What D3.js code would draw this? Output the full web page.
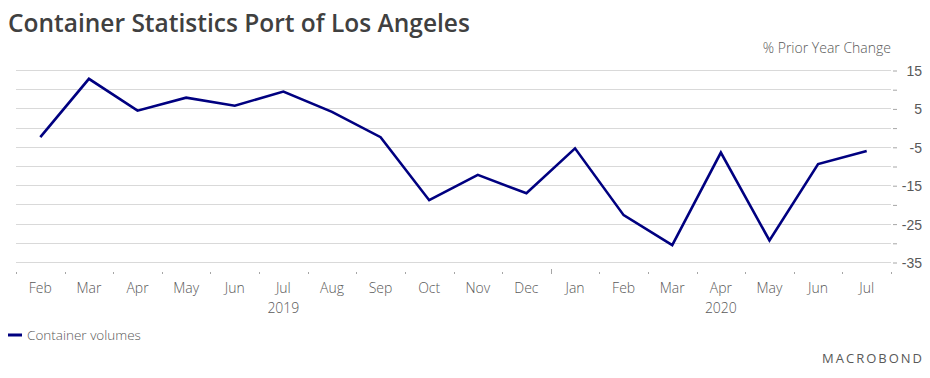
<!DOCTYPE html>
<html lang="en">
<head>
<meta charset="utf-8">
<style>
body {
  margin: 0;
  background: #fff;
  font-family: "Open Sans", "Noto Sans", sans-serif;
}
.grid line { stroke: #d9d9d9; stroke-width: 1; }
.lbl { fill: #595959; font-size: 14px; font-weight: 300; }
</style>
</head>
<body>
<script src="https://cdn.jsdelivr.net/npm/d3@7"></script>
<script>

var width = 930,
    height = 378;

// monthly series, Feb 2019 .. Jul 2020
var months = ["Feb", "Mar", "Apr", "May", "Jun", "Jul", "Aug", "Sep", "Oct", "Nov", "Dec",
              "Jan", "Feb", "Mar", "Apr", "May", "Jun", "Jul"];
var years = ["2019", "2019", "2019", "2019", "2019", "2019", "2019", "2019", "2019", "2019", "2019",
             "2020", "2020", "2020", "2020", "2020", "2020", "2020"];
var volumes = [-2.5, 12.7, 4.4, 7.8, 5.7, 9.4, 4.1, -2.5, -18.9, -12.3, -17.1,
               -5.4, -22.8, -30.6, -6.5, -29.4, -9.5, -6.1];
var yTicks = [15, 10, 5, 0, -5, -10, -15, -20, -25, -30, -35];
var yLabels = [15, 5, -5, -15, -25, -35];

var svg = d3.select("body").append("svg")
    .attr("width", width)
    .attr("height", height);

var x = d3.scaleLinear()
    .domain([0, months.length])
    .range([16, 891]);

var y = d3.scaleLinear()
    .domain([-35, 15])
    .range([262, 70]);

// title
svg.append("text")
    .attr("x", 8)
    .attr("y", 32)
    .attr("fill", "#404040")
    .style("font-size", "24.5px")
    .style("font-weight", 600)
    .text("Container Statistics Port of Los Angeles");

svg.append("text")
    .attr("class", "lbl")
    .attr("x", 891)
    .attr("y", 53)
    .attr("text-anchor", "end")
    .text("% Prior Year Change");

// gridlines
svg.append("g").attr("class", "grid")
  .selectAll("line")
  .data(yTicks)
  .enter().append("line")
    .attr("x1", 16)
    .attr("x2", 891)
    .attr("y1", function(d) { return Math.round(y(d)) + 0.5; })
    .attr("y2", function(d) { return Math.round(y(d)) + 0.5; });

// right axis
var yAxis = d3.axisRight(y)
    .tickValues(yTicks)
    .tickSize(4)
    .tickPadding(5)
    .tickFormat(function(d) { return yLabels.indexOf(d) >= 0 ? d : ""; });

var ya = svg.append("g")
    .attr("transform", "translate(893,0.5)")
    .call(yAxis);
ya.select(".domain").remove();
ya.selectAll(".tick line").attr("stroke", "#a6a6a6");
ya.selectAll(".tick text")
    .attr("class", "lbl")
    .attr("x", 29)
    .attr("text-anchor", "end")
    .attr("dy", "0.35em");

// x ticks at month boundaries
var xg = svg.append("g");
xg.selectAll("line")
  .data(d3.range(months.length + 1))
  .enter().append("line")
    .attr("x1", function(d) { return Math.round(x(d)) + 0.5; })
    .attr("x2", function(d) { return Math.round(x(d)) + 0.5; })
    .attr("y1", function(d) { return d === 11 ? 269 : 272; })
    .attr("y2", 274)
    .attr("stroke", "#a6a6a6");

xg.selectAll("text.m")
  .data(months)
  .enter().append("text")
    .attr("class", "lbl m")
    .attr("x", function(d, i) { return x(i + 0.5); })
    .attr("y", 293)
    .attr("text-anchor", "middle")
    .text(function(d) { return d; });

var yearGroups = d3.groups(years.map(function(d, i) { return {y: d, i: i}; }), function(d) { return d.y; });
xg.selectAll("text.yr")
  .data(yearGroups)
  .enter().append("text")
    .attr("class", "lbl yr")
    .attr("x", function(d) {
        var a = d[1][0].i, b = d[1][d[1].length - 1].i + 1;
        return x((a + b) / 2);
    })
    .attr("y", 313)
    .attr("text-anchor", "middle")
    .text(function(d) { return d[0]; });

// series line
var line = d3.line()
    .x(function(d, i) { return x(i + 0.5); })
    .y(function(d) { return y(d); });

svg.append("path")
    .datum(volumes)
    .attr("fill", "none")
    .attr("stroke", "#000080")
    .attr("stroke-width", 2.6)
    .attr("d", line);

// legend
svg.append("line")
    .attr("x1", 8).attr("x2", 22)
    .attr("y1", 335).attr("y2", 335)
    .attr("stroke", "#000080")
    .attr("stroke-width", 3);
svg.append("text")
    .attr("class", "lbl")
    .attr("x", 27)
    .attr("y", 340)
    .style("font-size", "13.5px")
    .text("Container volumes");

svg.append("text")
    .attr("x", 924)
    .attr("y", 363)
    .attr("text-anchor", "end")
    .attr("fill", "#595959")
    .style("font-size", "13px")
    .style("letter-spacing", "2px")
    .text("MACROBOND");

</script>
</body>
</html>
